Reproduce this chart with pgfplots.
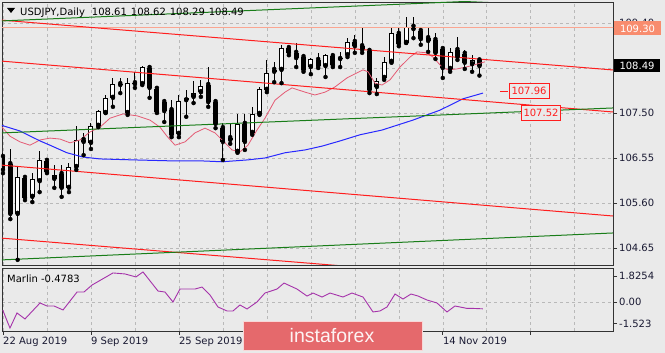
\documentclass[border=0pt]{standalone}
\usepackage{fontspec}
\setmainfont{DejaVu Sans}
\newfontfamily\wmfont{Liberation Sans}
\usepackage{pgfplots}
\usepackage{pgfplotstable}
\pgfplotsset{compat=1.18}

\definecolor{bgc}{RGB}{234,234,234}
\definecolor{labc}{RGB}{25,25,50}
\definecolor{chred}{RGB}{255,30,30}
\definecolor{chgreen}{RGB}{25,125,25}
\definecolor{mablue}{RGB}{40,40,255}
\definecolor{mapink}{RGB}{228,90,115}
\definecolor{salmon}{RGB}{248,140,110}
\definecolor{salline}{RGB}{250,165,145}
\definecolor{osc}{RGB}{165,50,170}
\definecolor{wmred}{RGB}{229,105,108}
\definecolor{wmedge}{RGB}{248,215,215}

\pgfplotstableread{
i O H L C
0 106.57 106.66 106.23 106.30
1 106.42 106.74 105.26 105.37
2 105.37 106.38 104.40 106.15
3 106.13 106.15 105.66 105.71
4 105.73 106.23 105.62 106.11
5 106.06 106.70 105.83 106.51
6 106.49 106.55 106.23 106.25
7 106.11 106.40 105.92 106.19
8 106.21 106.40 105.73 105.92
9 105.92 106.44 105.83 106.36
10 106.36 107.23 106.30 106.93
11 106.93 107.08 106.61 106.89
12 106.87 107.29 106.74 107.23
13 107.23 107.56 107.20 107.54
14 107.50 107.88 107.50 107.82
15 107.82 108.24 107.63 108.11
16 108.11 108.24 107.92 108.09
17 107.50 108.24 107.46 108.13
18 108.13 108.37 108.03 108.11
19 108.11 108.49 108.09 108.47
20 108.45 108.49 107.82 108.03
21 108.01 108.03 107.50 107.52
22 107.73 107.80 107.31 107.54
23 107.56 107.77 106.99 107.04
24 107.06 107.88 106.99 107.75
25 107.77 107.99 107.42 107.82
26 107.84 108.18 107.71 107.92
27 107.94 108.20 107.84 108.07
28 108.09 108.47 107.63 107.73
29 107.73 107.73 107.18 107.27
30 107.18 107.29 106.51 106.89
31 106.97 107.29 106.85 106.93
32 106.68 107.48 106.66 107.27
33 107.27 107.48 106.72 106.89
34 107.08 107.63 107.04 107.48
35 107.48 108.05 107.46 108.01
36 107.99 108.62 107.94 108.34
37 108.41 108.58 108.15 108.37
38 108.41 108.94 108.13 108.87
39 108.87 108.89 108.72 108.77
40 108.77 108.98 108.47 108.66
41 108.68 108.70 108.37 108.41
42 108.47 108.66 108.32 108.64
43 108.62 108.77 108.45 108.49
44 108.49 108.75 108.26 108.72
45 108.70 108.77 108.47 108.51
46 108.64 108.79 108.47 108.66
47 108.72 109.08 108.68 109.00
48 109.00 109.15 108.77 108.91
49 108.91 109.32 108.77 108.83
50 108.81 108.87 107.92 107.99
51 108.05 108.24 107.90 108.18
52 108.24 108.68 108.20 108.58
53 108.58 109.29 108.56 109.19
54 109.17 109.29 108.91 108.96
55 108.98 109.53 108.98 109.32
56 109.32 109.53 109.08 109.27
57 109.23 109.29 108.94 109.06
58 109.08 109.29 108.79 109.02
59 109.04 109.19 108.64 108.77
60 108.85 108.89 108.24 108.45
61 108.43 108.87 108.37 108.79
62 108.83 109.10 108.62 108.68
63 108.75 108.83 108.43 108.56
64 108.53 108.72 108.37 108.62
65 108.61 108.62 108.29 108.49
}\candles

\pgfplotstableread{
x y
-0.41 107.25
2.32 107.12
5.05 106.91
6.41 106.82
8.73 106.66
10.91 106.57
13.23 106.53
17.74 106.51
22.78 106.49
26.88 106.49
29.88 106.47
33.42 106.51
35.74 106.55
38.47 106.66
41.20 106.72
43.52 106.80
45.98 106.91
48.70 107.04
51.71 107.14
55.93 107.35
59.62 107.56
62.76 107.80
65.48 107.92
}\bluema

\pgfplotstableread{
x y
-0.41 107.25
0.95 107.01
2.32 106.89
3.68 106.82
5.05 106.93
6.41 106.97
7.78 106.95
9.14 106.87
10.50 106.93
11.87 107.10
13.23 107.20
14.60 107.39
16.37 107.48
18.28 107.44
20.05 107.35
21.42 107.20
22.37 107.01
23.47 106.82
24.83 106.89
26.19 107.08
27.56 107.18
28.92 107.08
30.29 106.87
31.24 106.72
32.33 106.68
33.42 106.82
34.65 107.14
35.74 107.39
37.11 107.77
38.47 107.94
39.43 108.03
41.20 107.94
42.56 107.88
43.93 107.94
45.29 108.05
46.93 108.24
49.11 108.41
49.80 108.37
50.75 108.13
51.71 108.09
52.80 108.20
54.16 108.47
55.53 108.68
56.48 108.79
57.84 108.77
58.66 108.68
59.89 108.47
60.71 108.41
61.94 108.43
63.71 108.49
65.76 108.58
}\pinkma

\pgfplotstableread{
x y
-0.04 -0.56
0.95 -1.83
1.91 -0.77
3.00 -1.19
5.05 -0.07
6.00 -0.28
6.96 -0.28
8.19 -0.56
10.10 0.70
11.05 0.70
12.14 1.19
15.01 2.04
16.64 1.97
18.14 1.76
19.10 2.11
21.15 0.77
22.10 0.70
23.19 0.00
24.15 0.91
26.19 0.91
27.15 1.05
28.24 0.49
29.33 -0.35
30.56 -0.63
31.38 -0.63
32.33 -0.21
33.29 -0.49
34.65 0.00
35.74 0.63
37.38 0.91
38.34 1.33
40.11 0.91
41.47 0.42
42.29 0.63
43.52 0.35
44.61 0.63
46.38 0.35
47.61 0.63
49.11 0.35
50.48 -0.70
51.43 -0.63
52.39 -0.35
53.48 0.56
54.57 0.21
55.66 0.56
56.62 0.42
57.84 0.14
59.21 -0.07
60.57 -0.70
61.66 -0.28
63.30 -0.45
64.12 -0.45
65.48 -0.48
}\marlin

\pgfplotsset{
  panel/.style={
    scale only axis, width=611pt,
    xmin=-0.136, xmax=83.22,
    axis line style={black!80, line width=0.8pt},
    tick align=outside, major tick length=4pt, minor tick length=0pt,
    ytick pos=right, yticklabel pos=right, xtick pos=left,
    xtick={0,12,...,72}, minor xtick={6,18,...,78},
    xmajorgrids, xminorgrids,
    grid style={gray!55, dash pattern=on 3pt off 3pt, line width=0.6pt},
    major grid style={gray!55, dash pattern=on 3pt off 3pt, line width=0.6pt},
    minor grid style={gray!55, dash pattern=on 3pt off 3pt, line width=0.6pt},
    tick style={black!80, line width=0.8pt},
    yticklabel style={anchor=west, inner sep=0pt, xshift=2pt, text=labc},
    every tick label/.append style={font=\fontsize{10}{12}\selectfont},
  },
}

\begin{document}
\begin{tikzpicture}[x=1pt,y=1pt]
\useasboundingbox (0,0) rectangle (665,353);
\fill[bgc] (0,0) rectangle (665,353);

\begin{axis}[panel, at={(2pt,88pt)}, anchor=south west, height=263pt,
  ymin=104.291, ymax=109.843,
  ytick={104.65,105.60,106.55,107.50,108.45,109.40},
  yticklabels={104.65,105.60,106.55,107.50,{},109.40},
  ymajorgrids, xticklabels={}, xtick style={draw=none}]

% wicks
\addplot[only marks, mark=none, forget plot,
  error bars/y dir=plus, error bars/y explicit, error bars/error mark=none,
  error bars/error bar style={black, line width=1pt}]
  table[x=i, y=L, y error expr=\thisrow{H}-\thisrow{L}] \candles;
% bodies (outline / bearish fill)
\addplot[only marks, mark=none, forget plot,
  error bars/y dir=plus, error bars/y explicit, error bars/error mark=none,
  error bars/error bar style={black, line width=5pt}]
  table[x=i, y expr={min(\thisrow{O},\thisrow{C})}, y error expr={max(abs(\thisrow{C}-\thisrow{O}),0.025)}] \candles;
% bullish body interiors (zero length for bearish candles)
\addplot[only marks, mark=none, forget plot,
  error bars/y dir=plus, error bars/y explicit, error bars/error mark=none,
  error bars/error bar style={white, line width=3pt, line cap=butt}]
  table[x=i, y expr={\thisrow{O}+0.021}, y error expr={max(\thisrow{C}-\thisrow{O}-0.042,0)}] \candles;

% horizontal level
\addplot[salline, line width=1pt] coordinates {(-0.5,109.30) (84,109.30)};
% moving averages
\addplot[mapink, line width=0.8pt] table[x=x,y=y] \pinkma;
\addplot[mablue, line width=1pt] table[x=x,y=y] \bluema;
% channel lines
\addplot[chred, line width=1pt] coordinates {(-0.41,109.463) (83.22,108.408)};
\addplot[chred, line width=1pt] coordinates {(-0.41,108.598) (83.22,107.521)};
\addplot[chred, line width=1pt] coordinates {(-0.41,106.402) (83.22,105.325)};
\addplot[chred, line width=1pt] coordinates {(-0.41,104.861) (83.22,103.806)};
\addplot[chgreen, line width=1pt] coordinates {(-0.41,109.442) (83.22,109.985)};
\addplot[chgreen, line width=1pt] coordinates {(-0.41,107.078) (83.22,107.606)};
\addplot[chgreen, line width=1pt] coordinates {(-0.41,104.397) (83.22,104.967)};
% short marker line to label
\addplot[chred, line width=1pt] coordinates {(67.8,107.96) (68.9,107.96)};
\end{axis}

\begin{axis}[panel, at={(2pt,22pt)}, anchor=south west, height=63pt,
  ymin=-2.037, ymax=2.388,
  ytick={0}, yticklabels={0.00},
  extra y ticks={-1.523,1.8254}, extra y tick labels={-1.523,1.8254},
  extra y tick style={grid=none},
  ymajorgrids,
  xticklabels={22 Aug 2019,9 Sep 2019,25 Sep 2019,{},{},14 Nov 2019},
  xticklabel style={anchor=north west, inner sep=0pt, yshift=-2pt, text=labc}]
\addplot[osc, line width=0.9pt] table[x=x,y=y] \marlin;
\end{axis}

% header
\fill[black] (7,345) -- (15,345) -- (11,340) -- cycle;
\node[anchor=base west, inner sep=0pt, font=\fontsize{10}{12}\selectfont] at (20,337)
  {USDJPY,Daily\hspace{7pt}108.61\hspace{4pt}108.62\hspace{4pt}108.29\hspace{4pt}108.49};
\node[anchor=base west, inner sep=0pt, font=\fontsize{10}{12}\selectfont] at (7,70) {Marlin -0.4783};

% price boxes on the right scale
\node[fill=salmon, text=white, inner sep=0pt, minimum width=47pt, minimum height=14pt,
  font=\fontsize{10}{12}\selectfont] at (637.5,324.5) {109.30};
\node[fill=black, text=white, inner sep=0pt, minimum width=46pt, minimum height=13pt,
  font=\fontsize{10}{12}\selectfont] at (637,287.5) {108.49};
\node[draw=chred, fill=bgc, text=chred, inner sep=0pt, minimum width=40pt, minimum height=15pt,
  line width=0.8pt, font=\fontsize{10}{12}\selectfont] at (529,262) {107.96};
\node[draw=chred, fill=bgc, text=chred, inner sep=0pt, minimum width=39pt, minimum height=15pt,
  line width=0.8pt, font=\fontsize{10}{12}\selectfont] at (541,240) {107.52};

% watermark
\filldraw[fill=wmred, draw=wmedge, line width=1pt] (243.5,2.5) rectangle (422.5,31.5);
\node[text=white!92!wmred, inner sep=0pt, anchor=base, font=\wmfont\fontsize{19.5}{20}\selectfont] at (332,10) {instaforex};
\end{tikzpicture}
\end{document}
